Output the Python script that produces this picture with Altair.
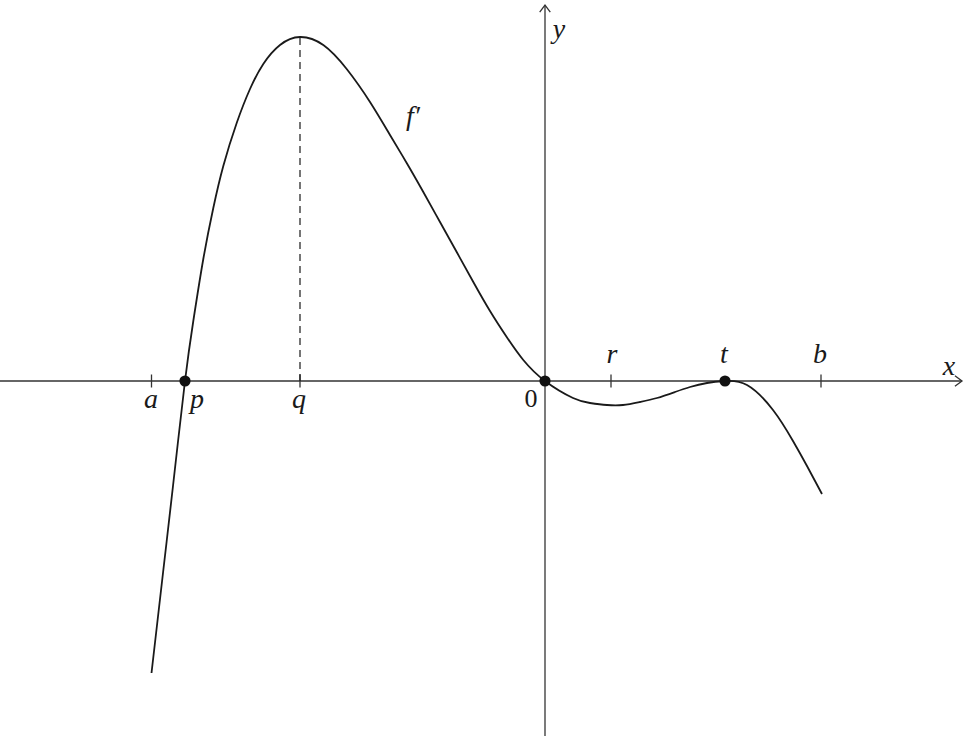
import altair as alt
import pandas as pd

# Graph of f' on [a, b]; horizontal unit = vertical unit
curve_x = [-3.935, -3.82, -3.72, -3.60, -3.517, -3.417, -3.317, -3.217, -3.083, -2.95,
           -2.817, -2.65, -2.45, -2.217, -1.983, -1.75, -1.55, -1.383, -1.217, -1.05,
           -0.883, -0.717, -0.55, -0.383, -0.217, 0.0, 0.28, 0.45, 0.62, 0.78,
           0.95, 1.12, 1.30, 1.45, 1.62, 1.80, 2.02, 2.28, 2.48, 2.62, 2.77]
curve_y = [-2.92, -1.92, -1.05, 0.0, 0.60, 1.22, 1.73, 2.15, 2.58, 2.92,
           3.17, 3.36, 3.44, 3.36, 3.12, 2.79, 2.46, 2.18, 1.89, 1.59,
           1.29, 0.99, 0.70, 0.44, 0.21, 0.0, -0.17, -0.22, -0.24, -0.24,
           -0.21, -0.17, -0.11, -0.06, -0.02, 0.0, -0.04, -0.29, -0.60, -0.85, -1.13]

# marked points on the x-axis
a_x, p_x, q_x, r_x, t_x, b_x = -3.935, -3.60, -2.45, 0.66, 1.80, 2.76
q_peak = 3.44

dot_x = [p_x, 0.0, t_x]
dot_y = [0.0, 0.0, 0.0]

tick_x = [a_x, q_x, r_x, b_x]

below_labels = ["a", "p", "q"]
below_x = [-3.94, -3.48, -2.46]
top_labels = ["r", "t", "b"]
top_x = [0.67, 1.79, 2.75]

X_DOM = [-5.45, 4.24]
Y_DOM = [-3.55, 3.81]
W, H = 969, 736

xs = alt.Scale(domain=X_DOM, nice=False, zero=False)
ys = alt.Scale(domain=Y_DOM, nice=False, zero=False)
INK = "#1a1a1a"
AXIS = "#333333"
FONT = "Liberation Serif"


def X(f="x"):
    return alt.X(f"{f}:Q", scale=xs, axis=None)


def Y(f="y"):
    return alt.Y(f"{f}:Q", scale=ys, axis=None)


# axes
x_axis = alt.Chart(pd.DataFrame({"x": [X_DOM[0]], "x2": [4.17], "y": [0.0]})).mark_rule(
    color=AXIS, strokeWidth=1.3
).encode(x=X(), x2="x2:Q", y=Y())
y_axis = alt.Chart(pd.DataFrame({"x": [0.0], "y": [Y_DOM[0]], "y2": [3.76]})).mark_rule(
    color=AXIS, strokeWidth=1.3
).encode(x=X(), y=Y(), y2="y2:Q")

x_arrow = alt.Chart(pd.DataFrame({"x": [4.17], "y": [0.0]})).mark_point(
    shape="M-1,-0.75L0,0L-1,0.75", filled=False, color=AXIS, strokeWidth=1.3, size=200, opacity=1
).encode(x=X(), y=Y())
y_arrow = alt.Chart(pd.DataFrame({"x": [0.0], "y": [3.76]})).mark_point(
    shape="M-0.75,1L0,0L0.75,1", filled=False, color=AXIS, strokeWidth=1.3, size=200, opacity=1
).encode(x=X(), y=Y())

ticks = alt.Chart(pd.DataFrame({"x": tick_x, "y": [-0.065] * 4, "y2": [0.065] * 4})).mark_rule(
    color=AXIS, strokeWidth=1.3
).encode(x=X(), y=Y(), y2="y2:Q")

q_dash = alt.Chart(pd.DataFrame({"x": [q_x], "y": [0.0], "y2": [q_peak]})).mark_rule(
    color=INK, strokeWidth=1.2, strokeDash=[7, 5]
).encode(x=X(), y=Y(), y2="y2:Q")

curve = alt.Chart(pd.DataFrame({"x": curve_x, "y": curve_y})).mark_line(
    color=INK, strokeWidth=1.8, interpolate="natural"
).encode(x=X(), y=Y(), order="x:Q")

dots = alt.Chart(pd.DataFrame({"x": dot_x, "y": dot_y})).mark_circle(
    color="#111111", size=125, opacity=1
).encode(x=X(), y=Y())

txt = dict(font=FONT, fontStyle="italic", fontSize=28, color=INK, align="center", baseline="alphabetic")

below = alt.Chart(pd.DataFrame({"x": below_x, "y": [-0.27] * 3, "t": below_labels})).mark_text(
    **txt
).encode(x=X(), y=Y(), text="t:N")
zero = alt.Chart(pd.DataFrame({"x": [-0.14], "y": [-0.26], "t": ["0"]})).mark_text(
    font=FONT, fontSize=26, color=INK, align="center", baseline="alphabetic"
).encode(x=X(), y=Y(), text="t:N")
above = alt.Chart(pd.DataFrame({"x": top_x, "y": [0.18] * 3, "t": top_labels})).mark_text(
    **txt
).encode(x=X(), y=Y(), text="t:N")
axis_names = alt.Chart(pd.DataFrame({"x": [4.04, 0.14], "y": [0.06, 3.43], "t": ["x", "y"]})).mark_text(
    **txt
).encode(x=X(), y=Y(), text="t:N")
fname = alt.Chart(pd.DataFrame({"x": [-1.32], "y": [2.56], "t": ["f\u2032"]})).mark_text(
    **txt
).encode(x=X(), y=Y(), text="t:N")

chart = alt.layer(
    x_axis, y_axis, x_arrow, y_arrow, ticks, q_dash, curve, dots,
    below, zero, above, axis_names, fname
).properties(
    width=W, height=H, padding=0, autosize=alt.AutoSizeParams(type="none"), background="white"
).configure_view(stroke=None)

chart.save("out.html", embed_options={"renderer": "svg", "actions": False})
